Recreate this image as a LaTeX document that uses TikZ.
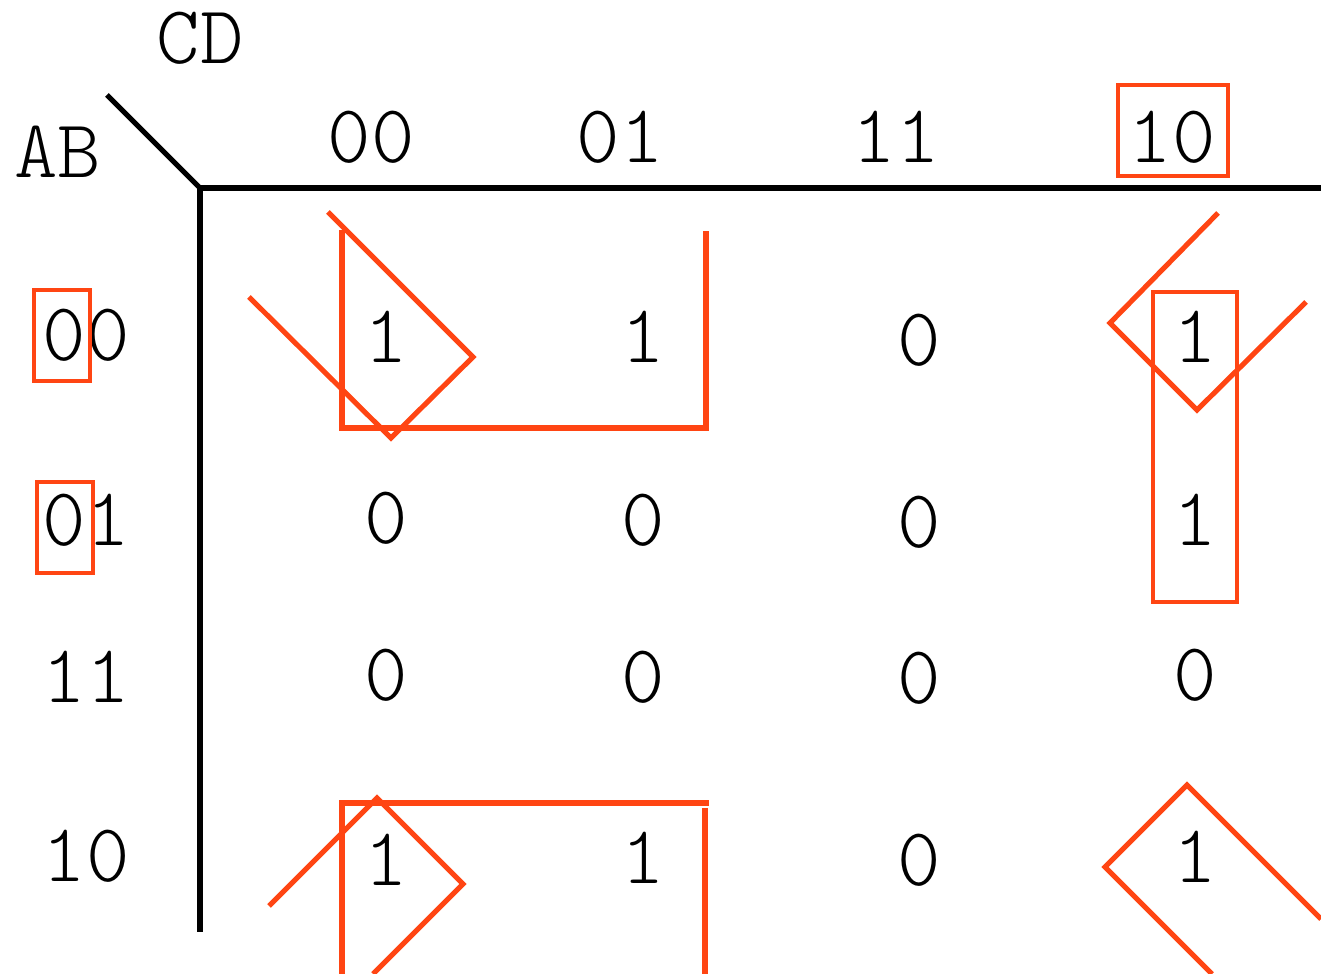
\documentclass[tikz,border=0pt]{standalone}
\usepackage{xcolor}
\usetikzlibrary{positioning}
\definecolor{loopred}{RGB}{255, 69, 19}
\definecolor{gridink}{RGB}{0, 0, 0}

\begin{document}
\begin{tikzpicture}[x=0.01cm, y=-0.01cm,
    lbl/.style={font=\ttfamily\fontseries{l}\fontsize{23.5}{28}\selectfont, inner sep=0pt},
    grp/.style={draw=loopred, line width=1.45pt, line join=miter},
    tag/.style={draw=loopred, line width=0.9pt}]
        % Page frame
        \useasboundingbox (0, 0) rectangle (1321, 974);
        % Variable names
        \node[lbl] (cd) at (200, 38) {CD};
        \node[lbl] (ab) at (58, 152) {AB};
        % Corner of the map
        \coordinate (corner) at (200, 188);
        \draw[gridink, line width=1.45pt] (107, 95) -- (corner);
        \draw[gridink, line width=1.45pt] (1321, 188) -- (corner) -- (200, 932);
        % Column headers
        \node[lbl] (h00) at (371, 137) {00};
        \node[lbl] (h01) at (620, 137) {01};
        \node[lbl] (h11) at (896, 137) {11};
        \node[lbl] (h10) at (1172, 137) {10};
        % Row labels
        \node[lbl] (r00) at (86, 335) {00};
        \node[lbl] (r01) at (86, 520) {01};
        \node[lbl] (r11) at (86, 677) {11};
        \node[lbl] (r10) at (86, 856) {10};
        % Cells, row 00
        \node[lbl] (c00-00) at (386, 337) {1};
        \node[lbl] (c00-01) at (643, 337) {1};
        \node[lbl] (c00-11) at (919, 340) {0};
        \node[lbl] (c00-10) at (1195, 337) {1};
        % Cells, row 01
        \node[lbl] (c01-00) at (386, 518) {0};
        \node[lbl] (c01-01) at (643, 520) {0};
        \node[lbl] (c01-11) at (919, 522) {0};
        \node[lbl] (c01-10) at (1195, 520) {1};
        % Cells, row 11
        \node[lbl] (c11-00) at (386, 675) {0};
        \node[lbl] (c11-01) at (643, 677) {0};
        \node[lbl] (c11-11) at (919, 678) {0};
        \node[lbl] (c11-10) at (1195, 675) {0};
        % Cells, row 10
        \node[lbl] (c10-00) at (386, 860) {1};
        \node[lbl] (c10-01) at (643, 858) {1};
        \node[lbl] (c10-11) at (919, 860) {0};
        \node[lbl] (c10-10) at (1195, 857) {1};
        % Marked header and row bits
        \draw[tag] (1118, 85) rectangle (1228, 176);
        \draw[tag] (34, 290) rectangle (90, 381);
        \draw[tag] (37, 482) rectangle (93, 573);
        % Column 10 pair
        \draw[tag] (1153, 292) rectangle (1237, 602);
        % Top pair, open at the top
        \draw[grp] (342, 230) -- (342, 428) -- (706, 428) -- (706, 231);
        % Bottom pair, open at the bottom
        \draw[grp] (342, 974) -- (342, 803) -- (709, 803);
        \draw[grp] (705, 808) -- (705, 974);
        % Corner group, tilted
        \draw[grp] (328, 212) -- (473, 357) -- (391, 438) -- (249, 297);
        \draw[grp] (1218, 213) -- (1110, 323) -- (1197, 410) -- (1306, 302);
        \draw[grp] (269, 906) -- (377, 798) -- (463, 884) -- (373, 974);
        \draw[grp] (1321, 919) -- (1187, 785) -- (1105, 867) -- (1212, 974);
    \end{tikzpicture}
\end{document}
